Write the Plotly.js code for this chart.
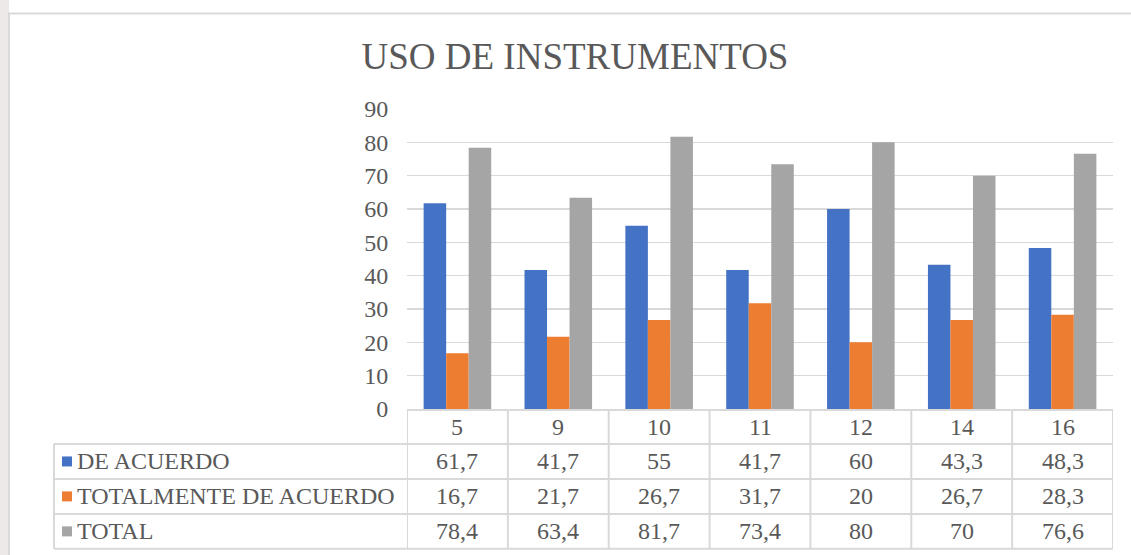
<!DOCTYPE html>
<html>
<head>
<meta charset="utf-8">
<script src="https://cdn.plot.ly/plotly-3.0.1.min.js"></script>
<style>
  html, body { margin: 0; padding: 0; background: #ffffff; }
  #chart { width: 1131px; height: 555px; }
</style>
</head>
<body>
<div id="chart"></div>
<script>
// ---- data ----
const categories = ["5", "9", "10", "11", "12", "14", "16"];
const seriesNames = ["DE ACUERDO", "TOTALMENTE DE ACUERDO", "TOTAL"];
const deAcuerdo = [61.7, 41.7, 55, 41.7, 60, 43.3, 48.3];
const totalmenteDeAcuerdo = [16.7, 21.7, 26.7, 31.7, 20, 26.7, 28.3];
const total = [78.4, 63.4, 81.7, 73.4, 80, 70, 76.6];
const yTicks = [0, 10, 20, 30, 40, 50, 60, 70, 80, 90];
const chartTitle = "USO DE INSTRUMENTOS";

// ---- styling ----
const colors = ["#4472C4", "#ED7D31", "#A5A5A5"];
const textColor = "#595959";
const lineColor = "#D9D9D9";
const FONT = "'Times New Roman', 'Liberation Serif', 'DejaVu Serif', serif";
const FS = 24;

const W = 1131, Hh = 555;
const L = 407, R = 1113, T = 108.7, B = 409;
const PW = R - L, PH = B - T;
const px = p => (p - L) / PW;      // pixel x -> paper x
const py = p => (B - p) / PH;      // pixel y -> paper y

const seriesData = [deAcuerdo, totalmenteDeAcuerdo, total];
const traces = seriesData.map((vals, i) => ({
  type: "bar",
  name: seriesNames[i],
  x: categories,
  y: vals,
  marker: { color: colors[i] },
  hoverinfo: "x+y+name"
}));

const fmt = v => String(v).replace(".", ",");

// table geometry (pixels)
const rowLines = [410, 444, 479, 514, 549];
const tableLeft = 54;
const shapes = [];
// left grey strip and chart frame
shapes.push({type: "rect", xref: "paper", yref: "paper", x0: px(-5), x1: px(9), y0: py(-5), y1: py(560),
  fillcolor: "#EEE9E9", line: {width: 0}, layer: "below"});
shapes.push({type: "rect", xref: "paper", yref: "paper", x0: px(9), x1: px(1140), y0: py(13), y1: py(560),
  fillcolor: "rgba(0,0,0,0)", line: {color: lineColor, width: 2}});
// horizontal table lines
rowLines.forEach((y, k) => {
  shapes.push({type: "line", xref: "paper", yref: "paper",
    x0: px(k === 0 ? L : tableLeft), x1: px(R), y0: py(y), y1: py(y),
    line: {color: lineColor, width: 2}});
});
// vertical table lines: category boundaries via the x axis (category index)
for (let i = 0; i <= categories.length; i++) {
  shapes.push({type: "line", xref: "x", yref: "paper",
    x0: i - 0.5, x1: i - 0.5, y0: py(rowLines[0]), y1: py(rowLines[4]),
    line: {color: lineColor, width: 2}});
}
shapes.push({type: "line", xref: "paper", yref: "paper",
  x0: px(tableLeft), x1: px(tableLeft), y0: py(rowLines[1]), y1: py(rowLines[4]),
  line: {color: lineColor, width: 2}});

const annotations = [];
// header row: categories (positioned by category index)
categories.forEach((c, i) => {
  annotations.push({xref: "x", yref: "paper", x: i, y: py((rowLines[0] + rowLines[1]) / 2),
    text: c, showarrow: false, xanchor: "center", yanchor: "middle",
    font: {family: FONT, size: FS, color: textColor}});
});
// value rows
seriesData.forEach((vals, r) => {
  const ycPix = (rowLines[r + 1] + rowLines[r + 2]) / 2;
  const yc = py(ycPix);
  vals.forEach((v, i) => {
    annotations.push({xref: "x", yref: "paper", x: i, y: yc,
      text: fmt(v), showarrow: false, xanchor: "center", yanchor: "middle",
      font: {family: FONT, size: FS, color: textColor}});
  });
  // legend key square
  shapes.push({type: "rect", xref: "paper", yref: "paper",
    x0: px(62), x1: px(72), y0: py(ycPix + 5), y1: py(ycPix - 5),
    fillcolor: colors[r], line: {width: 0}});
  annotations.push({xref: "paper", yref: "paper", x: px(75), y: yc,
    text: seriesNames[r], showarrow: false, xanchor: "left", yanchor: "middle",
    font: {family: FONT, size: FS, color: textColor}});
});

const layout = {
  width: W, height: Hh,
  margin: {l: L, r: W - R, t: T, b: Hh - B, pad: 0},
  paper_bgcolor: "#ffffff",
  plot_bgcolor: "rgba(0,0,0,0)",
  showlegend: false,
  barmode: "group",
  bargap: 0.33,
  bargroupgap: 0,
  title: {
    text: chartTitle,
    font: {family: FONT, size: 37, color: textColor},
    x: 575 / W, xanchor: "center", xref: "container",
    y: 1 - 56 / Hh, yanchor: "middle", yref: "container"
  },
  xaxis: {
    type: "category",
    range: [-0.5, categories.length - 0.5],
    autorange: false,
    showticklabels: false,
    showgrid: false,
    zeroline: false,
    showline: false,
    ticks: "",
    fixedrange: true
  },
  yaxis: {
    range: [0, 90],
    autorange: false,
    tickvals: yTicks,
    ticktext: yTicks.map(String),
    showgrid: true,
    gridcolor: lineColor,
    gridwidth: 1.5,
    zeroline: false,
    showline: false,
    ticks: "outside",
    ticklen: 13,
    tickcolor: "rgba(0,0,0,0)",
    tickfont: {family: FONT, size: FS, color: textColor},
    fixedrange: true
  },
  shapes: shapes,
  annotations: annotations
};

Plotly.newPlot("chart", traces, layout, {displayModeBar: false, staticPlot: true});
</script>
</body>
</html>
